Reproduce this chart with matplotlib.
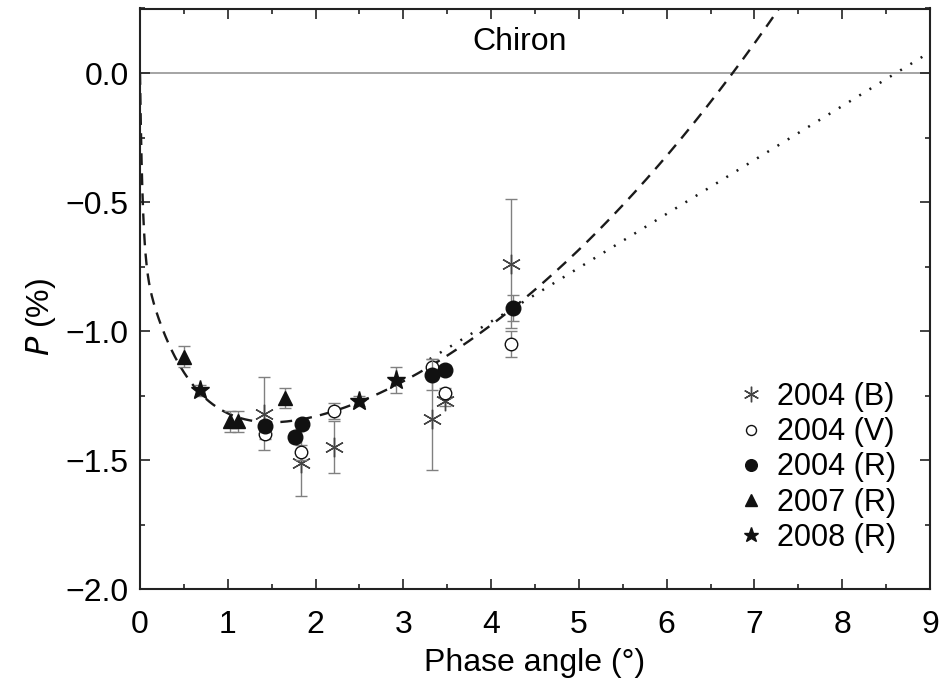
import matplotlib.pyplot as plt
import numpy as np

plt.rcParams['font.family'] = ['Liberation Sans', 'DejaVu Sans']

# 2004 (B)
bAlpha = [1.41, 1.83, 2.21, 3.33, 3.47, 4.23]
bPol = [-1.32, -1.51, -1.45, -1.34, -1.27, -0.74]
bErr = [0.14, 0.13, 0.10, 0.20, 0.02, 0.25]
# 2004 (V)
vAlpha = [1.42, 1.83, 2.21, 3.33, 3.47, 4.23]
vPol = [-1.40, -1.47, -1.31, -1.14, -1.24, -1.05]
vErr = [0.02, 0.03, 0.03, 0.03, 0.02, 0.05]
# 2004 (R)
rAlpha = [1.42, 1.77, 1.84, 3.33, 3.47, 4.25]
rPol = [-1.37, -1.41, -1.36, -1.17, -1.15, -0.91]
rErr = [0.02, 0.02, 0.02, 0.06, 0.02, 0.05]
# 2007 (R)
tAlpha = [0.50, 1.03, 1.12, 1.65]
tPol = [-1.10, -1.35, -1.35, -1.26]
tErr = [0.04, 0.04, 0.04, 0.04]
# 2008 (R)
sAlpha = [0.68, 2.50, 2.92]
sPol = [-1.23, -1.27, -1.19]
sErr = [0.02, 0.02, 0.05]

# fit parameters (dashed: with quadratic term, dotted: linear-exponential)
dashB1, dashD1, dashB2, dashD2, dashH, dashC = 0.70, 0.03, 0.725, 0.51, -0.032, 0.036
dotB1, dotD1, dotB2, dotD2, dotH = 0.88, 0.03, 0.92, 0.51, 0.209

FS = 23

fig = plt.figure(figsize=(9.53, 6.8), dpi=100)
ax = fig.add_axes([0.1469, 0.1338, 0.829, 0.8537])

ax.axhline(0, color='#8c8c8c', lw=1.1, zorder=1)

a1 = np.linspace(0, 9, 2000)
p1 = (-dashB1 * (1 - np.exp(-a1 / dashD1)) - dashB2 * (1 - np.exp(-a1 / dashD2))
      + dashH * a1 + dashC * a1 ** 2)
ax.plot(a1, p1, color='#1a1a1a', lw=1.7, dashes=(5, 3.5), zorder=2)

a2 = np.linspace(3.3, 9, 600)
p2 = (-dotB1 * (1 - np.exp(-a2 / dotD1)) - dotB2 * (1 - np.exp(-a2 / dotD2))
      + dotH * a2)
ax.plot(a2, p2, color='#1a1a1a', lw=1.8, dashes=(0.8, 4), zorder=2)

ebKw = dict(ecolor='#808080', elinewidth=1.0, capsize=4.5, capthick=1.0, ls='none')
eb1 = ax.errorbar(bAlpha, bPol, yerr=bErr, marker=(6, 2, 0), ms=14, mew=1.0,
                  color='#444444', zorder=3, **ebKw)
eb2 = ax.errorbar(vAlpha, vPol, yerr=vErr, marker='o', ms=9, mfc='white', mec='#111111',
                  mew=1.0, zorder=4, **ebKw)
eb3 = ax.errorbar(rAlpha, rPol, yerr=rErr, marker='o', ms=10.5, color='#111111',
                  zorder=5, **ebKw)
eb4 = ax.errorbar(tAlpha, tPol, yerr=tErr, marker='^', ms=10.5, color='#111111',
                  zorder=5, **ebKw)
eb5 = ax.errorbar(sAlpha, sPol, yerr=sErr, marker='*', ms=14, color='#111111',
                  zorder=5, **ebKw)

ax.set_xlim(0, 9)
ax.set_ylim(-2.0, 0.25)
ax.set_xticks(np.arange(0, 10, 1))
ax.set_xticks(np.arange(0, 9.01, 0.5), minor=True)
ax.set_yticks([-2.0, -1.5, -1.0, -0.5, 0.0])
ax.set_yticks(np.arange(-2.0, 0.26, 0.25), minor=True)
ax.set_yticklabels(['\u22122.0', '\u22121.5', '\u22121.0', '\u22120.5', '0.0'])
ax.tick_params(which='both', direction='in', top=True, right=True, width=1.2,
               labelsize=FS, color='#222222')
ax.tick_params(which='major', length=7)
ax.tick_params(which='minor', length=3.5)
ax.tick_params(axis='x', pad=15)
ax.tick_params(axis='y', pad=8)
for sp in ax.spines.values():
    sp.set_linewidth(1.5)
    sp.set_color('#222222')

ax.set_xlabel('Phase angle (°)', fontsize=FS, labelpad=6)
ax.set_ylabel(r'$P$ (%)', fontsize=FS)
ax.yaxis.set_label_coords(-0.104, 0.468)
ax.text(4.33, 0.12, 'Chiron', fontsize=FS, ha='center', va='center')

handles = [eb1[0], eb2[0], eb3[0], eb4[0], eb5[0]]
labels = ['2004 (B)', '2004 (V)', '2004 (R)', '2007 (R)', '2008 (R)']
leg = ax.legend(handles, labels, loc='lower right', bbox_to_anchor=(0.992, 0.015),
                frameon=False, fontsize=22, handlelength=0.8, handletextpad=0.45,
                labelspacing=0.17, markerscale=0.8)

fig.savefig('out.png', dpi=100)
